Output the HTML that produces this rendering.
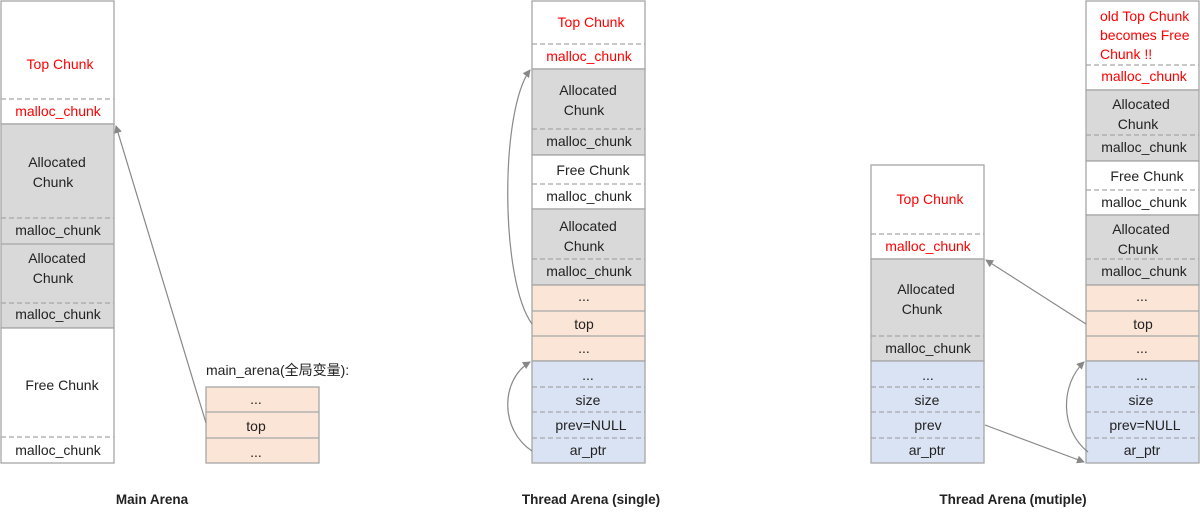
<!DOCTYPE html>
<html><head><meta charset="utf-8"><style>
body{margin:0;background:#fff;}
svg text{font-family:"Liberation Sans","Noto Sans CJK SC",sans-serif;font-size:14px;fill:#222;text-anchor:middle;}
.r{fill:#ff0000 !important}
.l{text-anchor:start !important}
.b{font-weight:bold;font-size:13.5px}
</style></head><body>
<svg width="1200" height="516" viewBox="0 0 1200 516" xmlns="http://www.w3.org/2000/svg">
<defs><marker id="a" markerWidth="8" markerHeight="8" refX="7" refY="4" orient="auto" markerUnits="userSpaceOnUse"><path d="M0,0 L8,4 L0,8 z" fill="#888"/></marker></defs>
<g stroke="#a6a6a6" stroke-width="1.3">
<rect x="1" y="1" width="113" height="123" fill="#fff"/>
<rect x="1" y="124" width="113" height="204" fill="#d9d9d9"/>
<rect x="1" y="328" width="113" height="135" fill="#fff"/>
<line x1="1" y1="244" x2="114" y2="244"/>
<g stroke-dasharray="5,3"><line x1="1" y1="99" x2="114" y2="99"/><line x1="1" y1="218" x2="114" y2="218"/><line x1="1" y1="303" x2="114" y2="303"/><line x1="1" y1="437" x2="114" y2="437"/></g>
<rect x="206" y="387" width="113" height="76" fill="#fbe5d6"/>
<line x1="206" y1="412" x2="319" y2="412"/><line x1="206" y1="438" x2="319" y2="438"/>
<rect x="532" y="1" width="113" height="68" fill="#fff"/>
<rect x="532" y="69" width="113" height="86" fill="#d9d9d9"/>
<rect x="532" y="155" width="113" height="54" fill="#fff"/>
<rect x="532" y="209" width="113" height="76" fill="#d9d9d9"/>
<rect x="532" y="285" width="113" height="76" fill="#fbe5d6"/>
<rect x="532" y="361" width="113" height="102" fill="#dae3f3"/>
<line x1="532" y1="311" x2="645" y2="311"/><line x1="532" y1="336" x2="645" y2="336"/>
<g stroke-dasharray="5,3"><line x1="532" y1="44" x2="645" y2="44"/><line x1="532" y1="129" x2="645" y2="129"/><line x1="532" y1="184" x2="645" y2="184"/><line x1="532" y1="259" x2="645" y2="259"/><line x1="532" y1="387" x2="645" y2="387"/><line x1="532" y1="412" x2="645" y2="412"/><line x1="532" y1="438" x2="645" y2="438"/></g>
<rect x="871" y="165" width="113" height="94" fill="#fff"/>
<rect x="871" y="259" width="113" height="102" fill="#d9d9d9"/>
<rect x="871" y="361" width="113" height="102" fill="#dae3f3"/>
<g stroke-dasharray="5,3"><line x1="871" y1="234" x2="984" y2="234"/><line x1="871" y1="336" x2="984" y2="336"/><line x1="871" y1="387" x2="984" y2="387"/><line x1="871" y1="412" x2="984" y2="412"/><line x1="871" y1="438" x2="984" y2="438"/></g>
<rect x="1086" y="1" width="113" height="89" fill="#fff"/>
<rect x="1086" y="90" width="113" height="71" fill="#d9d9d9"/>
<rect x="1086" y="161" width="113" height="54" fill="#fff"/>
<rect x="1086" y="215" width="113" height="70" fill="#d9d9d9"/>
<rect x="1086" y="285" width="113" height="76" fill="#fbe5d6"/>
<rect x="1086" y="361" width="113" height="102" fill="#dae3f3"/>
<line x1="1086" y1="311" x2="1199" y2="311"/><line x1="1086" y1="336" x2="1199" y2="336"/>
<g stroke-dasharray="5,3"><line x1="1086" y1="65" x2="1199" y2="65"/><line x1="1086" y1="135" x2="1199" y2="135"/><line x1="1086" y1="190" x2="1199" y2="190"/><line x1="1086" y1="259" x2="1199" y2="259"/><line x1="1086" y1="387" x2="1199" y2="387"/><line x1="1086" y1="412" x2="1199" y2="412"/><line x1="1086" y1="438" x2="1199" y2="438"/></g>
</g>
<g stroke="#888" stroke-width="1.2" fill="none" marker-end="url(#a)">
<line x1="206" y1="423" x2="116" y2="126"/>
<path d="M532,324 C500,280 500,110 530,70"/>
<path d="M532,451 C500,430 500,380 530,362"/>
<line x1="1086" y1="324" x2="986" y2="260"/>
<line x1="985" y1="425" x2="1084" y2="462"/>
<path d="M1088,452 C1060,430 1060,385 1084,362"/>
</g>
<text x="60" y="69" class="r">Top Chunk</text>
<text x="58" y="116" class="r">malloc_chunk</text>
<text x="57" y="167">Allocated</text><text x="53" y="187">Chunk</text>
<text x="58" y="235">malloc_chunk</text>
<text x="57" y="263">Allocated</text><text x="53" y="283">Chunk</text>
<text x="58" y="319">malloc_chunk</text>
<text x="62" y="390">Free Chunk</text>
<text x="58" y="455">malloc_chunk</text>
<text x="206" y="375" class="l">main_arena(全局变量):</text>
<text x="256" y="404">...</text><text x="256" y="431">top</text><text x="256" y="457">...</text>
<text x="152" y="504" class="b">Main Arena</text>
<text x="591" y="27" class="r">Top Chunk</text>
<text x="589" y="61" class="r">malloc_chunk</text>
<text x="588" y="95">Allocated</text><text x="584" y="115">Chunk</text>
<text x="589" y="146">malloc_chunk</text>
<text x="593" y="175">Free Chunk</text>
<text x="589" y="201">malloc_chunk</text>
<text x="588" y="231">Allocated</text><text x="584" y="251">Chunk</text>
<text x="589" y="276">malloc_chunk</text>
<text x="584" y="301">...</text><text x="584" y="329">top</text><text x="584" y="353">...</text>
<text x="588" y="380">...</text><text x="588" y="405">size</text><text x="591" y="430">prev=NULL</text><text x="588" y="455">ar_ptr</text>
<text x="591" y="504" class="b">Thread Arena (single)</text>
<text x="930" y="204" class="r">Top Chunk</text>
<text x="928" y="251" class="r">malloc_chunk</text>
<text x="926" y="294">Allocated</text><text x="922" y="314">Chunk</text>
<text x="928" y="353">malloc_chunk</text>
<text x="928" y="380">...</text><text x="927" y="405">size</text><text x="928" y="430">prev</text><text x="927" y="455">ar_ptr</text>
<text x="1100" y="21" class="r l">old Top Chunk</text>
<text x="1100" y="40" class="r l">becomes Free</text>
<text x="1100" y="59" class="r l">Chunk !!</text>
<text x="1144" y="81" class="r">malloc_chunk</text>
<text x="1141" y="109">Allocated</text><text x="1138" y="129">Chunk</text>
<text x="1144" y="152">malloc_chunk</text>
<text x="1147" y="181">Free Chunk</text>
<text x="1144" y="207">malloc_chunk</text>
<text x="1141" y="234">Allocated</text><text x="1138" y="254">Chunk</text>
<text x="1144" y="276">malloc_chunk</text>
<text x="1142" y="301">...</text><text x="1143" y="329">top</text><text x="1142" y="353">...</text>
<text x="1142" y="380">...</text><text x="1141" y="405">size</text><text x="1145" y="430">prev=NULL</text><text x="1142" y="455">ar_ptr</text>
<text x="1013" y="504" class="b">Thread Arena (mutiple)</text>
</svg>
</body></html>
